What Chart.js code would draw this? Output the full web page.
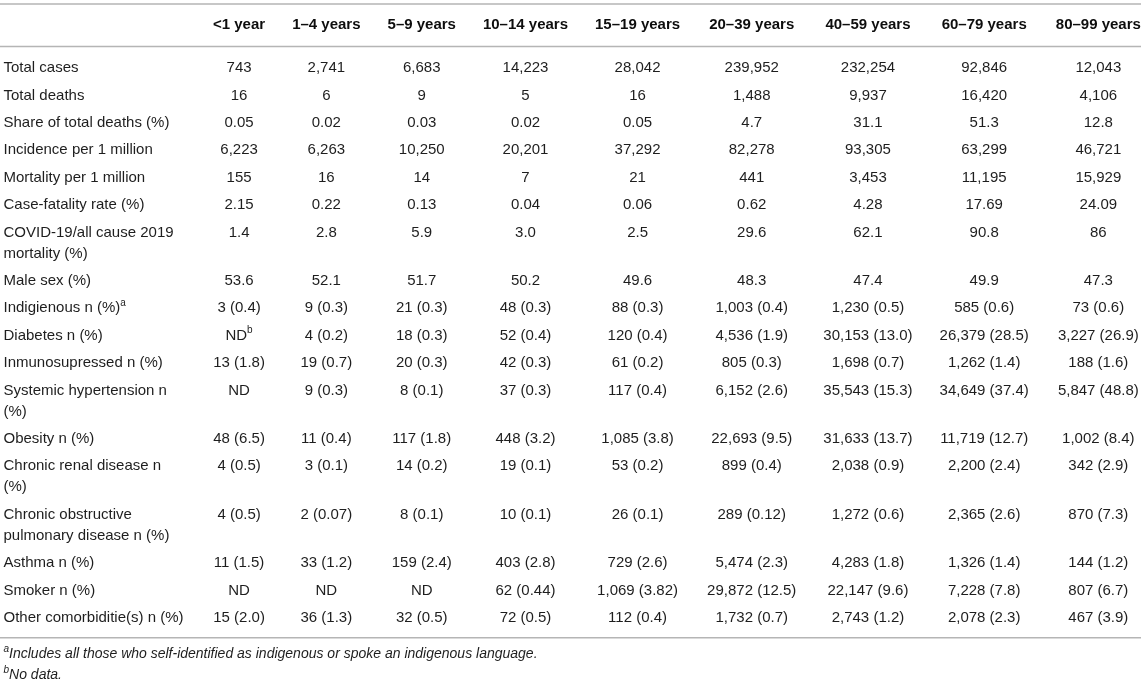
<!DOCTYPE html>
<html>
<head>
<meta charset="utf-8">
<script src="https://cdn.jsdelivr.net/npm/chart.js@4.4.1/dist/chart.umd.min.js"></script>
<style>
html,body{margin:0;padding:0;background:#ffffff;}
#wrap{position:relative;width:1145px;height:686px;}
</style>
</head>
<body>
<div id="wrap"><canvas id="c"></canvas></div>
<script>
// ---------- DATA ----------
const ageGroups = ["<1 year","1–4 years","5–9 years","10–14 years","15–19 years","20–39 years","40–59 years","60–79 years","80–99 years"];

const rowLabels = [
  ["Total cases"],
  ["Total deaths"],
  ["Share of total deaths (%)"],
  ["Incidence per 1 million"],
  ["Mortality per 1 million"],
  ["Case-fatality rate (%)"],
  ["COVID-19/all cause 2019","mortality (%)"],
  ["Male sex (%)"],
  ["Indigienous n (%)^a"],
  ["Diabetes n (%)"],
  ["Inmunosupressed n (%)"],
  ["Systemic hypertension n","(%)"],
  ["Obesity n (%)"],
  ["Chronic renal disease n","(%)"],
  ["Chronic obstructive","pulmonary disease n (%)"],
  ["Asthma n (%)"],
  ["Smoker n (%)"],
  ["Other comorbiditie(s) n (%)"]
];

const totalCases   = ["743","2,741","6,683","14,223","28,042","239,952","232,254","92,846","12,043"];
const totalDeaths  = ["16","6","9","5","16","1,488","9,937","16,420","4,106"];
const shareDeaths  = ["0.05","0.02","0.03","0.02","0.05","4.7","31.1","51.3","12.8"];
const incidence    = ["6,223","6,263","10,250","20,201","37,292","82,278","93,305","63,299","46,721"];
const mortality    = ["155","16","14","7","21","441","3,453","11,195","15,929"];
const caseFatality = ["2.15","0.22","0.13","0.04","0.06","0.62","4.28","17.69","24.09"];
const covidShare   = ["1.4","2.8","5.9","3.0","2.5","29.6","62.1","90.8","86"];
const maleSex      = ["53.6","52.1","51.7","50.2","49.6","48.3","47.4","49.9","47.3"];
const indigenous   = ["3 (0.4)","9 (0.3)","21 (0.3)","48 (0.3)","88 (0.3)","1,003 (0.4)","1,230 (0.5)","585 (0.6)","73 (0.6)"];
const diabetes     = ["ND^b","4 (0.2)","18 (0.3)","52 (0.4)","120 (0.4)","4,536 (1.9)","30,153 (13.0)","26,379 (28.5)","3,227 (26.9)"];
const immuno       = ["13 (1.8)","19 (0.7)","20 (0.3)","42 (0.3)","61 (0.2)","805 (0.3)","1,698 (0.7)","1,262 (1.4)","188 (1.6)"];
const hypertension = ["ND","9 (0.3)","8 (0.1)","37 (0.3)","117 (0.4)","6,152 (2.6)","35,543 (15.3)","34,649 (37.4)","5,847 (48.8)"];
const obesity      = ["48 (6.5)","11 (0.4)","117 (1.8)","448 (3.2)","1,085 (3.8)","22,693 (9.5)","31,633 (13.7)","11,719 (12.7)","1,002 (8.4)"];
const renal        = ["4 (0.5)","3 (0.1)","14 (0.2)","19 (0.1)","53 (0.2)","899 (0.4)","2,038 (0.9)","2,200 (2.4)","342 (2.9)"];
const copd         = ["4 (0.5)","2 (0.07)","8 (0.1)","10 (0.1)","26 (0.1)","289 (0.12)","1,272 (0.6)","2,365 (2.6)","870 (7.3)"];
const asthma       = ["11 (1.5)","33 (1.2)","159 (2.4)","403 (2.8)","729 (2.6)","5,474 (2.3)","4,283 (1.8)","1,326 (1.4)","144 (1.2)"];
const smoker       = ["ND","ND","ND","62 (0.44)","1,069 (3.82)","29,872 (12.5)","22,147 (9.6)","7,228 (7.8)","807 (6.7)"];
const otherComorb  = ["15 (2.0)","36 (1.3)","32 (0.5)","72 (0.5)","112 (0.4)","1,732 (0.7)","2,743 (1.2)","2,078 (2.3)","467 (3.9)"];

const footnotes = [
  "^aIncludes all those who self-identified as indigenous or spoke an indigenous language.",
  "^bNo data."
];

const tableRows = [totalCases, totalDeaths, shareDeaths, incidence, mortality, caseFatality, covidShare,
  maleSex, indigenous, diabetes, immuno, hypertension, obesity, renal, copd, asthma, smoker, otherComorb];

// ---------- STYLE / LAYOUT CONSTANTS ----------
const FAMILY = '"Liberation Sans", Arial, Helvetica, sans-serif';
const BODY_SIZE = 15, SUP_SIZE = 10, FOOT_SIZE = 14, SUP_RAISE = 5;
const CELL_PAD = 27, LABEL_COL_W = 199.5, LABEL_X = 3.5;
const HEADER_Y = 25, FIRST_ROW_Y = 68, ROW_H = 27.4, LINE_H = 21;
const RULE_TOP = 4, RULE_HEAD = 46.5, RULE_GAP = 20, RULE_RIGHT = 1141;
const FOOT_GAP = 16.5, FOOT_LH = 21;
const VIEW_W = 1145, VIEW_H = 686;
const RULE_COLOR = '#b5b5b5', RULE_W = 1.6;
const BODY_COLOR = '#1e1e1e', HEAD_COLOR = '#0d0d0d';

// ---------- rich text helpers ----------
function parseRich(s){
  const segs=[]; const re=/\^(\w)/g; let last=0, m;
  while((m=re.exec(s))){
    if(m.index>last) segs.push({t:s.slice(last,m.index),sup:false});
    segs.push({t:m[1],sup:true});
    last=re.lastIndex;
  }
  if(last<s.length) segs.push({t:s.slice(last),sup:false});
  return segs;
}
function fontStr(style, weight, size){ return style+' '+weight+' '+size+'px '+FAMILY; }
function richWidth(ctx, s, st){
  let w=0;
  for(const g of parseRich(s)){ ctx.font=fontStr(st.style, st.weight, g.sup?SUP_SIZE:st.size); w+=ctx.measureText(g.t).width; }
  return w;
}
function drawRich(ctx, s, x, y, st){
  const total = richWidth(ctx, s, st);
  let cx = st.align==='center' ? x-total/2 : x;
  ctx.fillStyle = st.color; ctx.textAlign='left'; ctx.textBaseline='middle';
  for(const g of parseRich(s)){
    ctx.font=fontStr(st.style, st.weight, g.sup?SUP_SIZE:st.size);
    ctx.fillText(g.t, cx, g.sup ? y-SUP_RAISE : y);
    cx += ctx.measureText(g.t).width;
  }
}

const headStyle = {align:'center', style:'normal', weight:'bold', size:BODY_SIZE, color:HEAD_COLOR};
const cellStyle = {align:'center', style:'normal', weight:'normal', size:BODY_SIZE, color:BODY_COLOR};
const labelStyle = {align:'left', style:'normal', weight:'normal', size:BODY_SIZE, color:BODY_COLOR};
const footStyle = {align:'left', style:'italic', weight:'normal', size:FOOT_SIZE, color:BODY_COLOR};

// ---------- derived layout (auto table layout from content widths) ----------
const mctx = document.createElement('canvas').getContext('2d');
const colWidths = ageGroups.map((h,j)=>Math.max(
  richWidth(mctx,h,headStyle),
  ...tableRows.map(r=>richWidth(mctx,r[j],cellStyle))));
const colCenters=[]; let xc=LABEL_COL_W;
colWidths.forEach(w=>{ colCenters.push(xc+(w+CELL_PAD)/2); xc+=w+CELL_PAD; });

const rowY=[]; let yc=FIRST_ROW_Y;
rowLabels.forEach(l=>{ rowY.push(yc); yc+=ROW_H+(l.length-1)*LINE_H; });
const lastLineY = rowY[rowY.length-1] + (rowLabels[rowLabels.length-1].length-1)*LINE_H;
const RULE_BOTTOM = lastLineY + RULE_GAP;

const headerPts = ageGroups.map((t,j)=>({x:colCenters[j], y:HEADER_Y, text:t}));
const cellPts = [];
tableRows.forEach((r,i)=>r.forEach((t,j)=>cellPts.push({x:colCenters[j], y:rowY[i], text:t})));
const labelPts = [];
rowLabels.forEach((lines,i)=>lines.forEach((t,k)=>labelPts.push({x:LABEL_X, y:rowY[i]+k*LINE_H, text:t})));
const footPts = footnotes.map((t,k)=>({x:LABEL_X, y:RULE_BOTTOM+FOOT_GAP+k*FOOT_LH, text:t}));

const tablePlugin = {
  id:'tableText',
  beforeDatasetsDraw(chart){
    const {ctx, scales:{x,y}} = chart;
    ctx.save();
    ctx.strokeStyle=RULE_COLOR; ctx.lineWidth=RULE_W;
    [RULE_TOP, RULE_HEAD, RULE_BOTTOM].forEach(v=>{
      const py=y.getPixelForValue(v);
      ctx.beginPath(); ctx.moveTo(x.getPixelForValue(0),py); ctx.lineTo(x.getPixelForValue(RULE_RIGHT),py); ctx.stroke();
    });
    ctx.restore();
  },
  afterDatasetsDraw(chart){
    const ctx=chart.ctx;
    ctx.save();
    chart.data.datasets.forEach((ds,d)=>{
      const meta=chart.getDatasetMeta(d);
      meta.data.forEach((el,i)=>drawRich(ctx, ds.data[i].text, el.x, el.y, ds.txt));
    });
    ctx.restore();
  }
};

const common = {pointRadius:0, pointHoverRadius:0, showLine:false};
new Chart(document.getElementById('c'), {
  type:'scatter',
  data:{datasets:[
    Object.assign({label:'header', data:headerPts, txt:headStyle}, common),
    Object.assign({label:'labels', data:labelPts, txt:labelStyle}, common),
    Object.assign({label:'cells', data:cellPts, txt:cellStyle}, common),
    Object.assign({label:'footnotes', data:footPts, txt:footStyle}, common)
  ]},
  options:{
    responsive:true, maintainAspectRatio:false, animation:false, events:[],
    layout:{padding:0},
    plugins:{legend:{display:false}, tooltip:{enabled:false}, title:{display:false}},
    scales:{
      x:{type:'linear', display:false, min:0, max:VIEW_W},
      y:{type:'linear', display:false, min:0, max:VIEW_H, reverse:true}
    }
  },
  plugins:[tablePlugin]
});
</script>
</body>
</html>
